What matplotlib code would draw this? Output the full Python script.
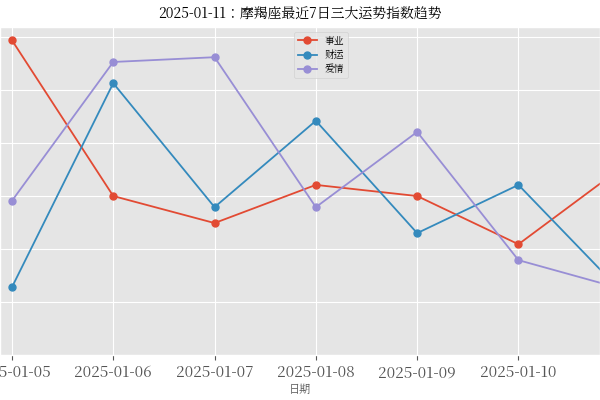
import matplotlib
matplotlib.use("Agg")
import matplotlib.pyplot as plt
from matplotlib import font_manager

plt.style.use("ggplot")
cjk = [f.name for f in font_manager.fontManager.ttflist if "CJK" in f.name]
plt.rcParams["font.family"] = "sans-serif"
plt.rcParams["font.sans-serif"] = ["Noto Sans CJK SC"] + cjk + ["DejaVu Sans"]
plt.rcParams["axes.unicode_minus"] = False

dates = ["2025-01-05", "2025-01-06", "2025-01-07", "2025-01-08",
         "2025-01-09", "2025-01-10", "2025-01-11"]
career = [59.4, 30.0, 24.9, 32.1, 30.0, 20.9, 35.1]
wealth = [12.8, 51.3, 27.9, 44.2, 23.0, 32.1, 12.3]
love = [29.1, 55.3, 56.2, 27.9, 42.1, 17.9, 12.6]

fig = plt.figure(figsize=(6, 4), dpi=100)
ax = fig.add_axes([0.0, 0.1125, 1.0, 0.82])

x = range(len(dates))
ax.plot(x, career, marker="o", markersize=5, linewidth=1.3, label="事业")
ax.plot(x, wealth, marker="o", markersize=5, linewidth=1.3, label="财运")
ax.plot(x, love, marker="o", markersize=5, linewidth=1.3, label="爱情")

ax.set_xticks(list(x))
ax.set_xticklabels(dates, fontsize=11)
ax.set_xlim(-0.118, 5.805)
ax.set_ylim(0, 61.9)
ax.set_yticks([0, 10, 20, 30, 40, 50, 60])
ax.set_yticklabels([])
ax.tick_params(axis="y", length=0)
ax.set_xlabel("日期", fontsize=8, labelpad=2)
ax.set_title("2025-01-11：摩羯座最近7日三大运势指数趋势", fontsize=10, pad=6)
ax.legend(loc="upper center", fontsize=7, bbox_to_anchor=(0.535, 1.0))

fig.savefig("out.png", dpi=100)
